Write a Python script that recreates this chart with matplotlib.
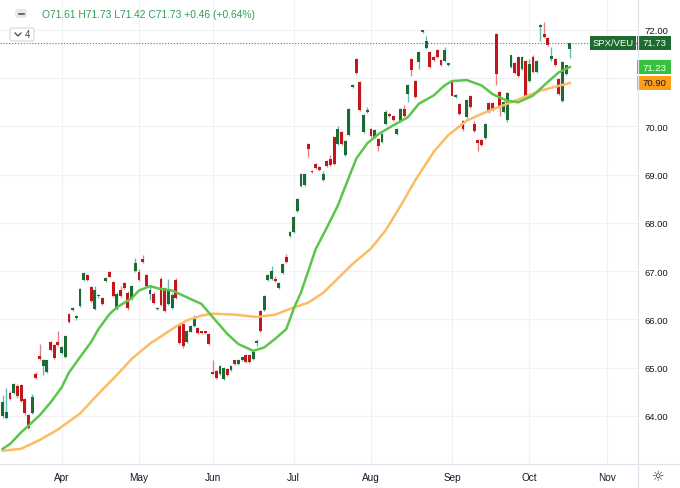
import numpy as np
import matplotlib.pyplot as plt
from matplotlib.patches import Rectangle, FancyBboxPatch

plt.rcParams['font.family'] = ['Liberation Sans', 'DejaVu Sans']

# SPX/VEU daily bars, 2021-03-10 .. 2021-10-18 (bar index = trading day)
opens = [
    64.00, 63.96, 64.48, 64.48, 64.63, 64.64, 64.35, 64.02, 64.06, 64.87,
    65.25, 65.04, 64.92, 65.53, 65.47, 65.53, 65.31, 65.23, 66.11, 66.20,
    66.03, 66.27, 66.82, 66.92, 66.67, 66.22, 66.48, 66.44, 66.80, 66.99,
    66.78, 66.22, 66.60, 66.75, 66.55, 66.42, 67.01, 66.99, 67.25, 66.92,
    66.53, 66.53, 66.21, 66.84, 66.65, 66.32, 66.23, 66.82, 65.89, 65.91,
    65.53, 65.75, 65.87, 65.82, 65.75, 65.75, 65.70, 64.92, 64.94, 64.87,
    64.77, 64.97, 64.95, 65.15, 65.08, 65.15, 65.26, 65.27, 65.18, 65.51,
    66.18, 66.20, 66.82, 66.84, 66.84, 66.65, 66.96, 67.29, 67.72, 67.82,
    68.24, 68.77, 68.79, 69.64, 69.08, 69.22, 69.15, 68.88, 69.28, 69.33,
    69.78, 69.64, 69.88, 69.40, 69.82, 70.82, 71.40, 70.92, 69.89, 70.29,
    69.95, 69.78, 69.73, 69.67, 70.05, 70.26, 70.22, 69.84, 70.12, 70.36,
    70.67, 71.40, 70.95, 71.33, 71.96, 71.63, 71.55, 71.43, 71.59, 71.38,
    71.35, 71.27, 70.92, 70.61, 70.47, 70.12, 70.20, 70.64, 70.05, 69.71,
    69.72, 69.76, 70.48, 70.48, 71.92, 70.71, 70.29, 70.13, 71.23, 71.31,
    71.43, 71.19, 71.36, 70.95, 71.43, 71.12, 72.06, 71.92, 71.83, 71.40,
    71.40, 70.98, 70.52, 71.09, 71.61]
highs = [
    64.44, 64.58, 64.52, 64.68, 64.66, 64.67, 64.38, 64.05, 64.46, 64.92,
    65.50, 65.18, 65.17, 65.56, 65.50, 65.76, 65.46, 65.68, 66.14, 66.26,
    66.09, 66.65, 66.98, 66.94, 66.70, 66.70, 66.53, 66.46, 66.88, 67.01,
    66.80, 66.56, 66.70, 66.78, 66.58, 66.72, 67.28, 67.05, 67.33, 66.94,
    66.70, 66.56, 66.26, 66.87, 66.68, 66.84, 66.54, 66.85, 65.92, 65.93,
    65.79, 65.89, 66.10, 65.84, 65.77, 65.77, 65.72, 65.15, 64.96, 65.06,
    65.01, 64.99, 65.05, 65.17, 65.19, 65.24, 65.28, 65.29, 65.35, 65.60,
    66.20, 66.51, 66.94, 67.10, 66.90, 66.78, 67.17, 67.36, 67.83, 68.14,
    68.51, 69.04, 69.04, 69.66, 69.10, 69.24, 69.17, 69.08, 69.30, 69.40,
    69.80, 70.00, 69.90, 69.71, 70.38, 70.87, 71.42, 70.94, 70.26, 70.40,
    69.97, 69.95, 69.75, 69.86, 70.35, 70.28, 70.24, 69.97, 70.38, 70.44,
    70.87, 71.42, 70.97, 71.56, 72.00, 71.88, 71.57, 71.45, 71.61, 71.40,
    71.64, 71.31, 70.94, 70.68, 70.49, 70.14, 70.57, 70.66, 70.12, 69.73,
    69.74, 70.07, 70.50, 70.50, 71.94, 70.73, 70.52, 70.71, 71.49, 71.33,
    71.45, 71.45, 71.38, 71.40, 71.47, 71.38, 72.13, 72.16, 71.85, 71.65,
    71.42, 71.00, 71.35, 71.28, 71.73]
lows = [
    63.95, 63.93, 64.33, 64.45, 64.38, 64.30, 64.03, 63.72, 64.04, 64.77,
    65.15, 64.85, 64.90, 65.34, 65.19, 65.45, 65.29, 65.21, 65.92, 66.18,
    65.98, 66.25, 66.80, 66.80, 66.37, 66.20, 66.45, 66.30, 66.78, 66.87,
    66.47, 66.20, 66.47, 66.63, 66.20, 66.40, 66.99, 66.80, 67.17, 66.67,
    66.40, 66.32, 66.19, 66.27, 66.16, 66.30, 66.21, 66.42, 65.49, 65.40,
    65.51, 65.73, 65.85, 65.70, 65.70, 65.70, 65.47, 64.86, 64.76, 64.85,
    64.74, 64.83, 64.93, 65.06, 65.06, 65.13, 65.10, 65.09, 65.16, 65.45,
    65.75, 66.18, 66.80, 66.82, 66.77, 66.63, 66.94, 67.17, 67.70, 67.80,
    68.22, 68.75, 68.77, 69.36, 69.03, 69.11, 69.08, 68.86, 69.16, 69.19,
    69.20, 69.62, 69.62, 69.38, 69.80, 70.80, 71.09, 70.32, 69.87, 70.27,
    69.79, 69.76, 69.50, 69.65, 70.03, 70.20, 70.11, 69.82, 70.10, 70.20,
    70.51, 71.05, 70.59, 71.19, 71.94, 71.61, 71.22, 71.36, 71.41, 71.26,
    71.33, 71.25, 70.62, 70.59, 70.23, 69.90, 70.18, 70.38, 69.88, 69.50,
    69.60, 69.74, 70.28, 70.31, 70.85, 70.22, 70.27, 70.10, 71.21, 71.08,
    71.03, 71.17, 70.62, 70.93, 71.10, 71.10, 71.78, 71.83, 71.66, 71.36,
    71.26, 70.65, 70.50, 71.07, 71.42]
closes = [
    64.29, 64.08, 64.35, 64.66, 64.41, 64.32, 64.06, 63.75, 64.39, 64.79,
    65.18, 65.15, 65.15, 65.37, 65.21, 65.47, 65.43, 65.66, 65.94, 66.24,
    66.07, 66.63, 66.96, 66.82, 66.39, 66.60, 66.50, 66.32, 66.86, 66.89,
    66.49, 66.53, 66.49, 66.65, 66.23, 66.70, 67.17, 66.82, 67.19, 66.69,
    66.60, 66.34, 66.23, 66.29, 66.18, 66.63, 66.51, 66.44, 65.51, 65.46,
    65.77, 65.87, 66.02, 65.72, 65.72, 65.72, 65.49, 64.88, 64.78, 65.04,
    64.99, 64.85, 65.03, 65.08, 65.17, 65.22, 65.12, 65.11, 65.33, 65.56,
    65.77, 66.49, 66.92, 67.01, 66.79, 66.76, 67.15, 67.19, 67.81, 68.12,
    68.49, 69.02, 69.02, 69.53, 69.05, 69.13, 69.10, 69.02, 69.18, 69.21,
    69.22, 69.95, 69.64, 69.69, 70.36, 70.85, 71.11, 70.34, 70.24, 70.34,
    69.81, 69.93, 69.60, 69.84, 70.30, 70.22, 70.13, 69.95, 70.36, 70.22,
    70.85, 71.16, 70.61, 71.54, 71.98, 71.78, 71.24, 71.38, 71.43, 71.28,
    71.59, 71.29, 70.64, 70.66, 70.25, 69.95, 70.55, 70.40, 69.91, 69.66,
    69.62, 70.05, 70.30, 70.33, 71.09, 70.43, 70.50, 70.69, 71.47, 71.10,
    71.05, 71.43, 70.64, 71.30, 71.12, 71.36, 72.11, 71.85, 71.68, 71.45,
    71.28, 70.67, 71.33, 71.27, 71.73]

# moving averages (bar index, value)
ma_fast_idx = [0, 2, 5, 7, 10, 13, 16, 18, 21, 24, 26, 29, 31, 35, 37, 40, 43, 46,
               50, 54, 57, 61, 64, 68, 71, 74, 77, 79, 81, 85, 88, 91, 93, 96, 99,
               102, 106, 110, 113, 117, 120, 122, 126, 130, 133, 137, 140, 144,
               148, 151, 154]
ma_fast_val = [63.32, 63.42, 63.66, 63.80, 64.01, 64.28, 64.59, 64.90, 65.22, 65.53,
               65.80, 66.11, 66.25, 66.44, 66.60, 66.69, 66.63, 66.60, 66.46, 66.32,
               66.05, 65.70, 65.49, 65.35, 65.42, 65.60, 65.80, 66.22, 66.56, 67.46,
               67.90, 68.36, 68.75, 69.33, 69.65, 69.84, 70.02, 70.19, 70.47, 70.64,
               70.85, 70.94, 70.96, 70.85, 70.67, 70.53, 70.50, 70.64, 70.92, 71.12,
               71.23]
ma_slow_idx = [0, 5, 10, 15, 21, 26, 31, 35, 40, 43, 47, 50, 54, 57, 63, 69, 74, 78,
               83, 87, 91, 95, 100, 104, 108, 112, 117, 121, 126, 131, 139, 146, 154]
ma_slow_val = [63.28, 63.32, 63.50, 63.72, 64.05, 64.46, 64.85, 65.18, 65.50, 65.65,
               65.85, 65.98, 66.08, 66.12, 66.10, 66.05, 66.10, 66.22, 66.35, 66.55,
               66.85, 67.15, 67.47, 67.85, 68.35, 68.88, 69.47, 69.82, 70.12, 70.29,
               70.53, 70.74, 70.90]

month_names = ['Apr', 'May', 'Jun', 'Jul', 'Aug', 'Sep', 'Oct', 'Nov']
month_idx = [16, 37, 57, 79, 100, 122, 143, 164]
price_ticks = [64, 65, 66, 67, 68, 69, 70, 71, 72]
symbol = 'SPX/VEU'
header = 'O71.61 H71.73 L71.42 C71.73 +0.46 (+0.64%)'

W, H = 680, 489
fig = plt.figure(figsize=(W / 100, H / 100), dpi=100)
fig.patch.set_facecolor('white')
ax = fig.add_axes([0, (H - 465) / H, 638 / W, 465 / H])
ov = fig.add_axes([0, 0, 1, 1], zorder=5)
ov.set_xlim(0, W)
ov.set_ylim(H, 0)
ov.axis('off')
ov.patch.set_alpha(0)

o = np.array(opens)
hi = np.array(highs)
lo = np.array(lows)
c = np.array(closes)
x = np.arange(len(c))
up = c >= o

wick_col = np.where(up, '#62bdb3', '#e98181')
body_col = np.where(up, '#1d6a32', '#c2161d')
ax.vlines(x, lo, hi, colors=wick_col, lw=1.0, zorder=2)
ax.bar(x, np.maximum(np.abs(c - o), 0.035), bottom=np.minimum(o, c), width=0.78,
       color=body_col, linewidth=0, zorder=2.5)

ax.plot(ma_slow_idx, ma_slow_val, color='#fcbc66', lw=1.8, zorder=3)
ax.plot(ma_fast_idx, ma_fast_val, color='#5cc64c', lw=1.8, zorder=3)
ax.axhline(c[-1], color='#707070', ls=(0, (1, 1.6)), lw=0.8, zorder=1.5)

ax.set_xlim(-0.73, 172.5)
ax.set_ylim(63.005, 72.64)
ax.set_xticks(month_idx)
ax.set_xticklabels(month_names)
ax.set_yticks(price_ticks)
# the 71.00 label sits under the MA value tags on the price scale
ax.set_yticklabels(['' if v == 71 else f'{v:.2f}' for v in price_ticks])
ax.yaxis.tick_right()
ax.tick_params(axis='x', length=0, pad=6, labelsize=7.2, labelcolor='#131722')
ax.tick_params(axis='y', length=0, pad=5, labelsize=6.8, labelcolor='#131722')
ax.grid(True, color='#eff1f4', lw=0.8)
ax.set_axisbelow(True)
for s in ax.spines.values():
    s.set_visible(False)

# pane separators
ov.plot([0, W], [465, 465], color='#e0e3eb', lw=0.9)
ov.plot([638, 638], [0, H], color='#e0e3eb', lw=0.9)


def ypx(v):
    return H - ax.transData.transform((0, v))[1]


# last price / MA value tags on the price scale
y_last = ypx(c[-1])
ov.add_patch(Rectangle((590, y_last - 7), 46, 14, fc='#1e6b31', ec='none'))
ov.add_patch(Rectangle((637, y_last - 7), 34, 14, fc='#1e6b31', ec='none'))
ov.text(613, y_last, symbol, color='white', fontsize=6.8, ha='center', va='center')
ov.text(654, y_last, f'{c[-1]:.2f}', color='white', fontsize=6.8, ha='center', va='center')

y_fast = ypx(ma_fast_val[-1])
y_slow = ypx(ma_slow_val[-1])
ov.add_patch(Rectangle((637, y_fast - 7), 34, 14, fc='#35c23c', ec='none'))
ov.text(654, y_fast, f'{ma_fast_val[-1]:.2f}', color='white', fontsize=6.8, ha='center', va='center')
ov.add_patch(Rectangle((637, y_slow - 7), 34, 14, fc='#ff9e1b', ec='none'))
ov.text(654, y_slow, f'{ma_slow_val[-1]:.2f}', color='#1a1a1a', fontsize=6.8, ha='center', va='center')

# legend header
ov.add_patch(FancyBboxPatch((15, 10), 12, 9, boxstyle='round,pad=0,rounding_size=3',
                            fc='#e6e8ec', ec='none'))
ov.plot([18.5, 23.5], [14.5, 14.5], color='#555', lw=1.2)
ov.text(42, 15, header, color='#2f9e5c', fontsize=7.4, ha='left', va='center')
ov.add_patch(FancyBboxPatch((10, 29), 24, 13, boxstyle='round,pad=0,rounding_size=2',
                            fc='white', ec='#d3d6dd', lw=0.8))
ov.plot([15, 18, 21], [34, 37, 34], color='#444', lw=0.9)
ov.text(25, 35.5, '4', color='#444', fontsize=7, ha='left', va='center')

ov.text(658, 477, '\u263c', color='#333', fontsize=10, ha='center', va='center',
        family='DejaVu Sans')

fig.savefig('out.png', dpi=100)
